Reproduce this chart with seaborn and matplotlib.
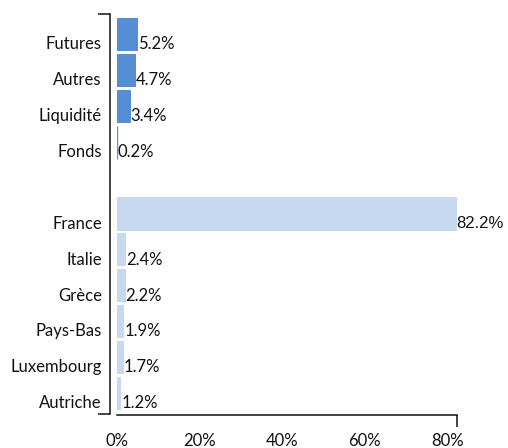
import matplotlib
matplotlib.use("Agg")
from matplotlib import pyplot as plt
import pandas as pd
import seaborn as sns

# data
noms = ["Futures", "Autres", "Liquidité", "Fonds",
        "France", "Italie", "Grèce", "Pays-Bas", "Luxembourg", "Autriche"]
valeurs = [5.2, 4.7, 3.4, 0.2, 82.2, 2.4, 2.2, 1.9, 1.7, 1.2]
groupes = ["instrument"] * 4 + ["pays"] * 6
xticks = [0, 20, 40, 60, 80]
xtick_labels = ["0%", "20%", "40%", "60%", "80%"]
couleurs = {"instrument": "#558ed5", "pays": "#c6d9f1"}

df = pd.DataFrame({"nom": noms, "valeur": valeurs, "groupe": groupes})

# blank slot between the two groups
ordre = noms[:4] + [" "] + noms[4:]

sns.set_style("white")
plt.rcParams["font.family"] = ["Lato", "DejaVu Sans"]

fig = plt.figure(figsize=(5.08, 4.48), dpi=100)
ax = fig.add_axes([116.5 / 508, 34 / 448, 340 / 508, 400 / 448])

sns.barplot(data=df, x="valeur", y="nom", hue="groupe", order=ordre,
            palette=couleurs, dodge=False, width=0.92, saturation=1,
            errorbar=None, legend=False, linewidth=0, ax=ax)

# keep the thin "Fonds" bar visible
for p in ax.patches:
    if 0 < p.get_width() < 0.5:
        p.set_linewidth(1)
        p.set_edgecolor(p.get_facecolor())

ymin, ymax = -0.571, len(ordre) - 1 + 0.571
ax.set_xlim(0, max(valeurs))
ax.set_ylim(ymax, ymin)
ax.set_xlabel("")
ax.set_ylabel("")

for s in ["top", "right"]:
    ax.spines[s].set_visible(False)
ax.spines["left"].set_position(("outward", 4.7))
ax.spines["bottom"].set_position(("outward", 0.5))
for s in ["left", "bottom"]:
    ax.spines[s].set_linewidth(1.1)
    ax.spines[s].set_color("#111111")

# labels sit a bit below the bar centres, like the original
decal = 0.23
ax.set_xticks(xticks, labels=xtick_labels)
ax.set_xticks([0, max(valeurs)], minor=True)
ax.set_yticks([i + decal for i in range(len(ordre))], labels=ordre)
ax.set_yticks([ymin, ymax], minor=True)
ax.tick_params(bottom=True, left=True, which="both")
ax.tick_params(axis="x", which="major", length=0, pad=13.5, labelsize=12,
               labelcolor="#111111")
ax.tick_params(axis="y", which="major", length=0, pad=5.8, labelsize=12,
               labelcolor="#111111")
ax.tick_params(which="minor", length=8.6, width=1.1, color="#111111",
               direction="out")

for n, v in zip(noms, valeurs):
    y = ordre.index(n) + decal
    fam = ["Liberation Sans"] if v == max(valeurs) else ["Lato", "DejaVu Sans"]
    ax.text(v, y, f"{v:.1f}%", ha="left", va="center_baseline", fontsize=12,
            color="#111111", family=fam, clip_on=False)

fig.savefig("out.png", dpi=100)
